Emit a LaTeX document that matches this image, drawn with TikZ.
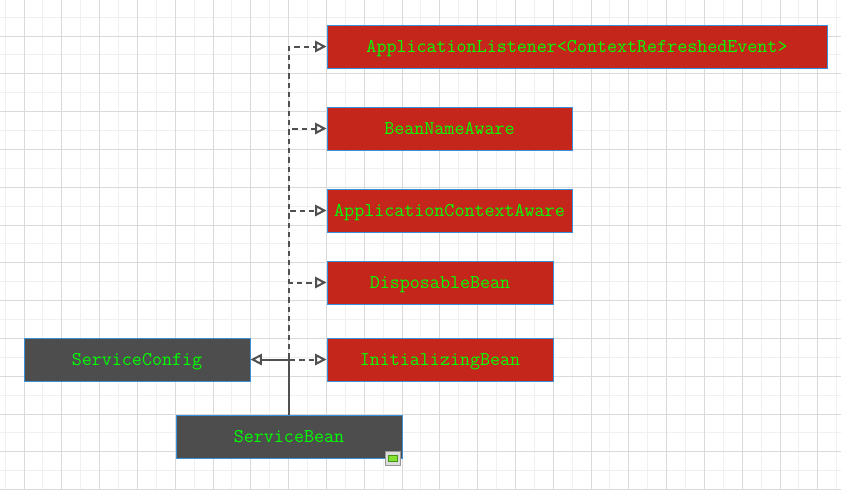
\documentclass[tikz,border=0pt]{standalone}
\usetikzlibrary{arrows.meta}
\definecolor{boxred}{RGB}{196,38,27}
\definecolor{boxgray}{RGB}{77,77,77}
\definecolor{boxborder}{RGB}{58,143,217}
\definecolor{txtgreen}{RGB}{0,255,0}
\definecolor{linegray}{RGB}{80,80,80}
\definecolor{gridmajor}{RGB}{218,218,218}
\definecolor{gridminor}{RGB}{240,240,240}
\tikzset{
  umlbox/.style={draw=boxborder, line width=0.75pt, rectangle, inner sep=0pt,
    minimum height=43*0.75pt, text=txtgreen, text depth=0pt,
    font=\fontsize{14.6pt}{16pt}\selectfont\ttfamily},
  redbox/.style={umlbox, fill=boxred},
  graybox/.style={umlbox, fill=boxgray},
  implements/.style={draw=linegray, line width=1.5pt, dash pattern=on 4pt off 3pt,
    -{Triangle[open, length=8.5pt, width=8.5pt, line width=1.5pt]}},
  extends/.style={draw=linegray, line width=1.5pt,
    -{Triangle[open, length=8.5pt, width=8.5pt, line width=1.5pt]}},
}
\begin{document}
\begin{tikzpicture}[x=0.75pt, y=-0.75pt]
\useasboundingbox (0,0) rectangle (841,490);
\fill[white] (0,0) rectangle (841,490);
% grid
\foreach \i in {0,...,44} {
  \draw[gridminor, line width=0.75pt] ({5.1+18.9*\i},0) -- ({5.1+18.9*\i},490);
}
\foreach \i in {1,...,26} {
  \draw[gridminor, line width=0.75pt] (0,{-1.8+18.9*\i}) -- (841,{-1.8+18.9*\i});
}
\foreach \i in {0,...,21} {
  \draw[gridmajor, line width=0.75pt] ({24+37.8*\i},0) -- ({24+37.8*\i},490);
}
\foreach \i in {0,...,12} {
  \draw[gridmajor, line width=0.75pt] (0,{36+37.8*\i}) -- (841,{36+37.8*\i});
}
% boxes
\node[redbox, minimum width=500*0.75pt] (al) at (577,46.5) {ApplicationListener<ContextRefreshedEvent>};
\node[redbox, minimum width=245*0.75pt] (bna) at (449.5,128.5) {BeanNameAware};
\node[redbox, minimum width=245*0.75pt] (aca) at (449.5,210.5) {ApplicationContextAware};
\node[redbox, minimum width=226*0.75pt] (db) at (440,282.5) {DisposableBean};
\node[redbox, minimum width=226*0.75pt] (ib) at (440,359.5) {InitializingBean};
\node[graybox, minimum width=226*0.75pt] (sc) at (137,359.5) {ServiceConfig};
\node[graybox, minimum width=226*0.75pt] (sb) at (289,436.5) {ServiceBean};
% connectors
\foreach \t in {al,bna,aca,db,ib} {
  \draw[implements] (sb.north) |- (\t.west);
}
\draw[extends] (sb.north) |- (sc.east);
% small icon
\draw[draw={rgb,255:red,150;green,150;blue,150}, fill={rgb,255:red,220;green,220;blue,220}, line width=0.75pt]
  (385,451) rectangle (400,465);
\draw[draw={rgb,255:red,70;green,150;blue,20}, fill={rgb,255:red,130;green,225;blue,50}, line width=0.75pt]
  (388,455.5) rectangle (397,461);
\end{tikzpicture}
\end{document}
